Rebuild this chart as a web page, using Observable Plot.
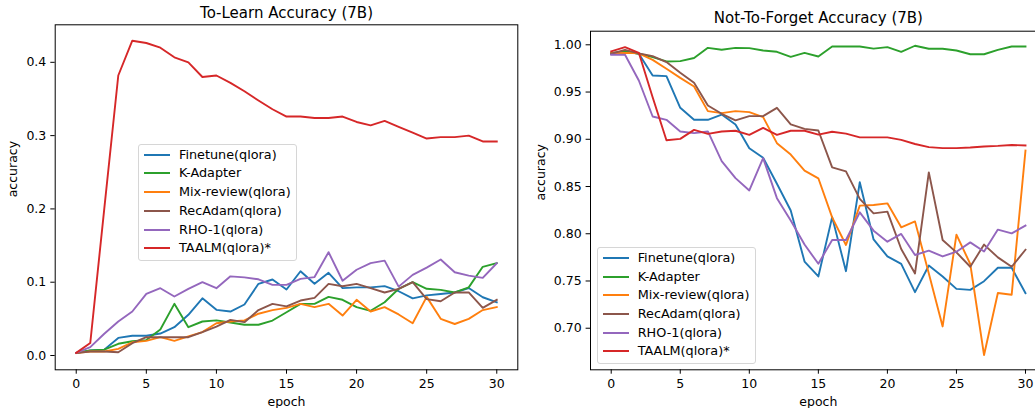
<!DOCTYPE html>
<html><head><meta charset="utf-8">
<script src="https://cdn.jsdelivr.net/npm/d3@7"></script>
<script src="https://cdn.jsdelivr.net/npm/@observablehq/plot@0.6"></script>
<style>
html,body{margin:0;padding:0;background:#fff;overflow:hidden;}
#wrap{position:relative;width:1035px;height:408px;overflow:hidden;font-family:"DejaVu Sans",sans-serif;}
.panel{position:absolute;top:0;}
.legend{position:absolute;box-sizing:border-box;border:1px solid #d6d6d6;border-radius:3px;background:rgba(255,255,255,0.8);}
.row{position:absolute;left:0;right:0;height:18px;line-height:18px;font-size:12.8px;color:#000;white-space:nowrap;}
.sw{position:absolute;left:5px;top:8px;width:26px;height:2px;}
.lb{position:absolute;left:40px;top:0;}
</style>
</head><body><div id="wrap"></div>
<script>
const epochs = [0,1,2,3,4,5,6,7,8,9,10,11,12,13,14,15,16,17,18,19,20,21,22,23,24,25,26,27,28,29,30];
const seriesNames = ["Finetune(qlora)","K-Adapter","Mix-review(qlora)","RecAdam(qlora)","RHO-1(qlora)","TAALM(qlora)*"];
const seriesColors = ["#1f77b4","#2ca02c","#ff7f0e","#8c564b","#9467bd","#d62728"];

// To-Learn Accuracy (7B)
const learnFinetune = [0.0036,0.0068,0.008,0.024,0.027,0.027,0.030,0.0386,0.0555,0.078,0.0623,0.060,0.0696,0.0978,0.1037,0.090,0.115,0.0978,0.1128,0.092,0.093,0.093,0.0946,0.0877,0.078,0.082,0.084,0.086,0.092,0.0795,0.0727];
const learnKAdapter = [0.0036,0.0068,0.008,0.016,0.0195,0.021,0.0355,0.0705,0.0386,0.0464,0.048,0.045,0.042,0.042,0.0477,0.059,0.0705,0.0705,0.080,0.076,0.066,0.061,0.0727,0.091,0.100,0.091,0.0895,0.086,0.093,0.121,0.126];
const learnMixReview = [0.0036,0.0055,0.0055,0.009,0.018,0.020,0.025,0.020,0.026,0.032,0.044,0.0464,0.048,0.057,0.062,0.065,0.0705,0.066,0.0705,0.0545,0.076,0.060,0.066,0.056,0.044,0.080,0.050,0.043,0.050,0.062,0.066];
const learnRecAdam = [0.0036,0.0055,0.0055,0.0045,0.0168,0.025,0.025,0.025,0.025,0.032,0.0395,0.0486,0.0455,0.062,0.0705,0.067,0.075,0.0786,0.0977,0.0945,0.0977,0.092,0.086,0.091,0.100,0.077,0.074,0.086,0.086,0.065,0.076];
const learnRho1 = [0.0036,0.0114,0.0296,0.0464,0.060,0.084,0.0918,0.0805,0.091,0.100,0.0918,0.108,0.1066,0.104,0.0964,0.0964,0.1045,0.107,0.141,0.102,0.117,0.126,0.1295,0.094,0.110,0.120,0.131,0.1136,0.109,0.106,0.126];
const learnTaalm = [0.0036,0.017,0.20,0.382,0.4295,0.4264,0.420,0.4068,0.40,0.380,0.382,0.372,0.3605,0.348,0.336,0.326,0.326,0.324,0.324,0.326,0.3186,0.314,0.320,0.312,0.304,0.296,0.298,0.298,0.300,0.292,0.292];

// Not-To-Forget Accuracy (7B)
const forgetFinetune = [0.9905,0.9933,0.9905,0.9675,0.9668,0.9333,0.9206,0.9206,0.9262,0.9157,0.8906,0.8804,0.8529,0.8246,0.7706,0.7548,0.8176,0.7604,0.8546,0.794,0.776,0.7682,0.7382,0.7664,0.7548,0.7417,0.7406,0.7498,0.764,0.764,0.7371];
const forgetKAdapter = [0.9915,0.993,0.9905,0.987,0.9824,0.9827,0.986,0.9968,0.9947,0.9968,0.9965,0.994,0.9926,0.9873,0.9915,0.9876,0.9982,0.9982,0.9982,0.996,0.9975,0.9926,0.999,0.9958,0.9958,0.994,0.990,0.990,0.9947,0.9982,0.9982];
const forgetMixReview = [0.991,0.9915,0.991,0.984,0.9746,0.965,0.9559,0.9298,0.9277,0.9298,0.9287,0.9234,0.8959,0.8838,0.8668,0.8587,0.8174,0.7881,0.8298,0.8305,0.8322,0.8068,0.8131,0.758,0.7019,0.799,0.768,0.6716,0.7373,0.7355,0.888];
const forgetRecAdam = [0.9905,0.9947,0.991,0.988,0.9817,0.9704,0.9598,0.9358,0.927,0.920,0.9245,0.9245,0.9333,0.9157,0.911,0.9093,0.8703,0.8661,0.8369,0.8216,0.8234,0.7839,0.758,0.865,0.7934,0.7803,0.7651,0.7885,0.775,0.7651,0.7831];
const forgetRho1 = [0.9894,0.9894,0.9622,0.9241,0.9206,0.9083,0.9065,0.9083,0.8768,0.8589,0.8458,0.88,0.8377,0.814,0.7886,0.7682,0.7934,0.7934,0.8227,0.8033,0.7916,0.7998,0.7775,0.7821,0.776,0.781,0.7909,0.7813,0.8044,0.8004,0.8086];
const forgetTaalm = [0.993,0.9975,0.9915,0.9445,0.899,0.9004,0.910,0.9057,0.9082,0.909,0.9047,0.912,0.9047,0.909,0.909,0.905,0.908,0.906,0.902,0.902,0.902,0.8994,0.895,0.8917,0.8906,0.8906,0.8913,0.8924,0.893,0.894,0.8934];

const xTicks = [0,5,10,15,20,25,30];
const learnYTicks = [0.0,0.1,0.2,0.3,0.4];
const forgetYTicks = [0.70,0.75,0.80,0.85,0.90,0.95,1.00];

function tidy(arrays) {
  const rows = [];
  arrays.forEach((vals, i) => vals.forEach((v, j) => rows.push({epoch: epochs[j], value: v, series: seriesNames[i]})));
  return rows;
}

const learnData = tidy([learnFinetune, learnKAdapter, learnMixReview, learnRecAdam, learnRho1, learnTaalm]);
const forgetData = tidy([forgetFinetune, forgetKAdapter, forgetMixReview, forgetRecAdam, forgetRho1, forgetTaalm]);

function panel(o) {
  return Plot.plot({
    width: 530, height: 408,
    marginLeft: o.ml, marginRight: o.mr, marginTop: o.mt, marginBottom: o.mb,
    style: {fontFamily: '"DejaVu Sans", sans-serif', fontSize: "12.5px", color: "#000", background: "transparent"},
    x: {domain: [-1.5, 31.5]},
    y: {domain: o.ydomain},
    color: {domain: seriesNames, range: seriesColors},
    marks: [
      Plot.line(o.data, {x: "epoch", y: "value", z: "series", stroke: "series", strokeWidth: 1.9, strokeLinejoin: "round", strokeLinecap: "square"}),
      Plot.frame({stroke: "#000", strokeWidth: 1}),
      Plot.axisX(xTicks, {tickSize: 4.4, tickPadding: 4.5, label: null, fontSize: 12.5}),
      Plot.axisY(o.yticks, {tickSize: 4.4, tickPadding: 4.5, label: null, fontSize: 12.5, tickFormat: o.fmt}),
      Plot.text([o.title], {frameAnchor: "top", lineAnchor: "bottom", dy: o.titleDy, fontSize: 15}),
      Plot.text(["epoch"], {frameAnchor: "bottom", lineAnchor: "bottom", dy: 36, fontSize: 12.5}),
      Plot.text(["accuracy"], {frameAnchor: "left", lineAnchor: "bottom", rotate: -90, dx: o.ylabDx, fontSize: 12.5})
    ]
  });
}

function legend(left, top) {
  const d = document.createElement("div");
  d.className = "legend";
  d.style.left = left + "px"; d.style.top = top + "px";
  d.style.width = "159px"; d.style.height = "117px";
  seriesNames.forEach((name, i) => {
    const r = document.createElement("div");
    r.className = "row";
    r.style.top = (10.7 + 18.7 * i - 9 - 1) + "px";
    const sw = document.createElement("span");
    sw.className = "sw"; sw.style.background = seriesColors[i];
    const lb = document.createElement("span");
    lb.className = "lb"; lb.textContent = name;
    r.appendChild(sw); r.appendChild(lb);
    d.appendChild(r);
  });
  return d;
}

const wrap = document.getElementById("wrap");
const left = panel({data: learnData, ml: 54.7, mr: 12.7, mt: 24.3, mb: 38.7, ydomain: [-0.0195, 0.4512], yticks: learnYTicks, fmt: d3.format(".1f"), title: "To-Learn Accuracy (7B)", titleDy: -7, ylabDx: -38.5});
left.classList.add("panel"); left.style.left = "0px";
wrap.appendChild(left);
const right = panel({data: forgetData, ml: 60, mr: 14.3, mt: 30.7, mb: 38.7, ydomain: [0.656, 1.0144], yticks: forgetYTicks, fmt: d3.format(".2f"), title: "Not-To-Forget Accuracy (7B)", titleDy: -8, ylabDx: -45.8});
right.classList.add("panel"); right.style.left = "530px";
wrap.appendChild(right);
wrap.appendChild(legend(138, 144));
wrap.appendChild(legend(596.7, 247.3));
</script>
</body></html>
